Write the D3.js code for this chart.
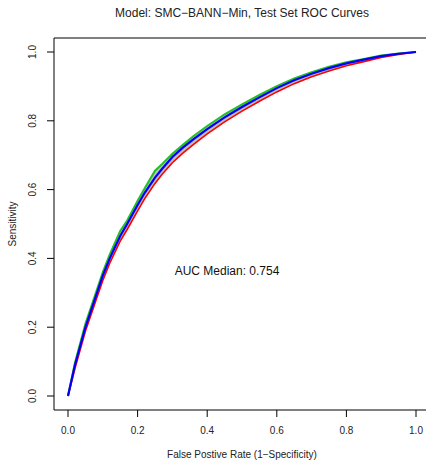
<!DOCTYPE html>
<html>
<head>
<meta charset="utf-8">
<script src="https://cdn.jsdelivr.net/npm/d3@7"></script>
<style>
  body { margin: 0; background: #fff; }
  svg { display: block; font-family: "Liberation Sans", Arial, sans-serif; }
</style>
</head>
<body>
<svg id="chart" width="426" height="462"></svg>
<script>
// ROC data
const fpr = [0, 0.02, 0.05, 0.08, 0.1, 0.12, 0.15, 0.17, 0.2, 0.22, 0.25, 0.27, 0.3, 0.33, 0.36, 0.4, 0.45, 0.5, 0.55, 0.6, 0.65, 0.7, 0.75, 0.8, 0.85, 0.9, 0.95, 1];
const tprMedian = [0, 0.09, 0.2, 0.29, 0.35, 0.4, 0.465, 0.5, 0.555, 0.59, 0.635, 0.66, 0.695, 0.722, 0.746, 0.776, 0.81, 0.84, 0.868, 0.895, 0.918, 0.937, 0.953, 0.967, 0.978, 0.988, 0.995, 1];
const tprUpper = [0, 0.097, 0.21, 0.3, 0.36, 0.412, 0.48, 0.51, 0.568, 0.603, 0.655, 0.674, 0.704, 0.73, 0.755, 0.785, 0.819, 0.848, 0.875, 0.901, 0.923, 0.941, 0.957, 0.97, 0.98, 0.99, 0.996, 1];
const tprLower = [0, 0.08, 0.188, 0.277, 0.336, 0.386, 0.45, 0.484, 0.538, 0.573, 0.618, 0.644, 0.678, 0.706, 0.731, 0.762, 0.797, 0.828, 0.857, 0.884, 0.908, 0.928, 0.945, 0.96, 0.972, 0.984, 0.993, 1];
const xTicks = [0, 0.2, 0.4, 0.6, 0.8, 1.0];
const yTicks = [0, 0.2, 0.4, 0.6, 0.8, 1.0];
const aucText = 'AUC Median: 0.754';
const aucPos = [0.457, 0.363];

const svg = d3.select('#chart');

const x = d3.scaleLinear().domain([0, 1]).range([68, 416]);
const y = d3.scaleLinear().domain([0, 1]).range([396, 52]);

const plotLeft = 54, plotTop = 38, plotBottom = 410, plotRight = 430;

// Band between lower and upper curves
const area = d3.area()
    .x((d, i) => x(fpr[i]))
    .y0((d, i) => y(tprLower[i]))
    .y1((d, i) => y(tprUpper[i]));

svg.append('path')
    .datum(fpr)
    .attr('fill', '#bebebe')
    .attr('d', area);

const line = vals => d3.line()
    .x((d, i) => x(fpr[i]))
    .y((d, i) => y(vals[i]))(fpr);

svg.append('path').attr('d', line(tprUpper))
    .attr('fill', 'none').attr('stroke', '#22c022').attr('stroke-width', 2);
svg.append('path').attr('d', line(tprLower))
    .attr('fill', 'none').attr('stroke', '#ff0000').attr('stroke-width', 1.6);
svg.append('path').attr('d', line(tprMedian))
    .attr('fill', 'none').attr('stroke', '#0000ff').attr('stroke-width', 2.2);

// Box (left, top, bottom)
svg.append('path')
    .attr('d', `M${plotRight},${plotTop}H${plotLeft}V${plotBottom}H${plotRight}`)
    .attr('fill', 'none').attr('stroke', '#000').attr('stroke-width', 1);

// X axis
const xAxis = svg.append('g').attr('transform', `translate(0,${plotBottom})`);
xAxis.selectAll('line').data(xTicks).join('line')
    .attr('x1', d => x(d)).attr('x2', d => x(d))
    .attr('y1', 0).attr('y2', 7)
    .attr('stroke', '#000');
xAxis.selectAll('text').data(xTicks).join('text')
    .attr('x', d => x(d)).attr('y', 24)
    .attr('text-anchor', 'middle')
    .attr('font-size', 10).attr('fill', '#222')
    .text(d => d3.format('.1f')(d));

// Y axis
const yAxis = svg.append('g').attr('transform', `translate(${plotLeft},0)`);
yAxis.selectAll('line').data(yTicks).join('line')
    .attr('y1', d => y(d)).attr('y2', d => y(d))
    .attr('x1', 0).attr('x2', -7)
    .attr('stroke', '#000');
yAxis.selectAll('text').data(yTicks).join('text')
    .attr('transform', d => `translate(-18,${y(d)}) rotate(-90)`)
    .attr('text-anchor', 'middle')
    .attr('font-size', 10).attr('fill', '#222')
    .text(d => d3.format('.1f')(d));

// Titles
svg.append('text')
    .attr('x', 242).attr('y', 17)
    .attr('text-anchor', 'middle')
    .attr('font-size', 12).attr('fill', '#222')
    .text('Model: SMC\u2212BANN\u2212Min, Test Set ROC Curves');

svg.append('text')
    .attr('x', 242).attr('y', 458)
    .attr('text-anchor', 'middle')
    .attr('font-size', 10).attr('fill', '#222')
    .text('False Postive Rate (1\u2212Specificity)');

svg.append('text')
    .attr('transform', `translate(16,${(y(0) + y(1)) / 2}) rotate(-90)`)
    .attr('text-anchor', 'middle')
    .attr('font-size', 10).attr('fill', '#222')
    .text('Sensitivity');

// AUC annotation
svg.append('text')
    .attr('x', x(aucPos[0])).attr('y', y(aucPos[1]) + 4)
    .attr('text-anchor', 'middle')
    .attr('font-size', 12).attr('fill', '#111')
    .text(aucText);
</script>
</body>
</html>
